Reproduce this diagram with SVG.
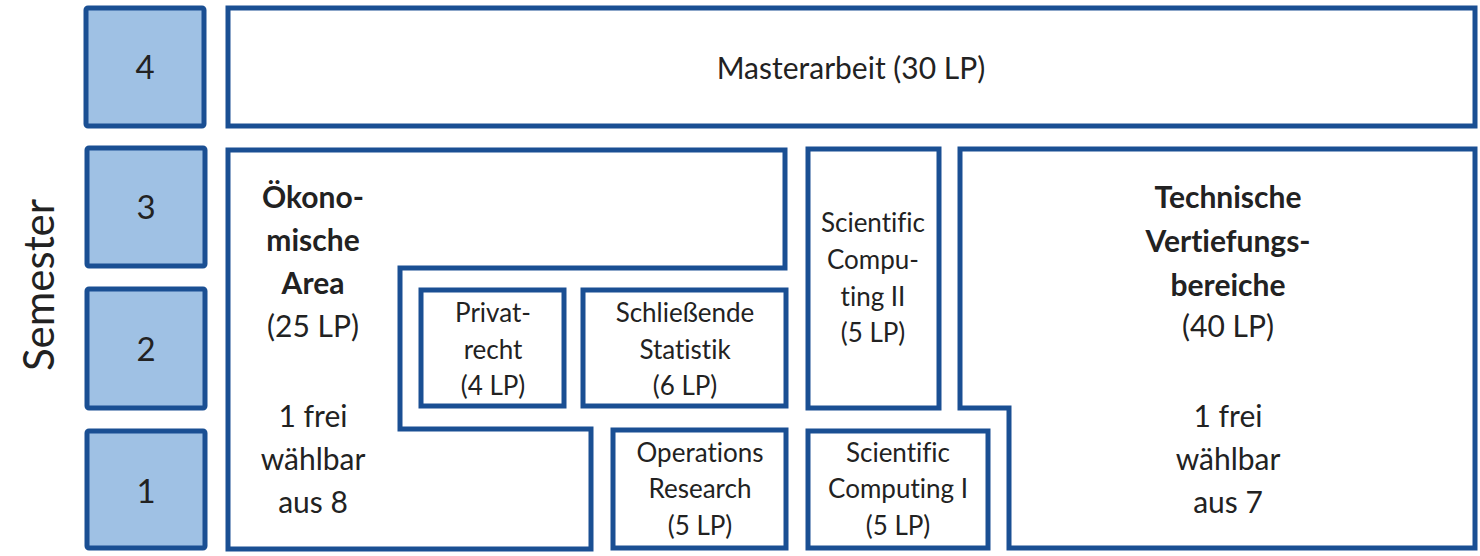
<svg xmlns="http://www.w3.org/2000/svg" width="1480" height="556" viewBox="0 0 1480 556">
<style>
.box{fill:#ffffff;stroke:#1a4f93;stroke-width:5;stroke-linejoin:miter}
.sem{fill:#9fc1e4;stroke:#1a4f93;stroke-width:5}
text{font-family:Lato,"Open Sans","Liberation Sans",sans-serif;fill:#222;text-anchor:middle;font-variant-ligatures:none}
.big{font-size:30px}
.small{font-size:26px}
.num{font-size:33px}
.b{font-weight:700}
</style>
<rect width="1480" height="556" fill="#ffffff"/>
<text id="semester-label" transform="translate(54,285) rotate(-90)" style="font-size:42px">Semester</text>
<g id="sem4"><rect class="sem" x="86" y="8" width="118" height="118" rx="2"/><text class="num" x="145" y="79">4</text></g>
<g id="sem3"><rect class="sem" x="87" y="148" width="118" height="118" rx="2"/><text class="num" x="146" y="219">3</text></g>
<g id="sem2"><rect class="sem" x="87" y="289" width="118" height="119" rx="2"/><text class="num" x="146" y="361">2</text></g>
<g id="sem1"><rect class="sem" x="87" y="431" width="118" height="117" rx="2"/><text class="num" x="146" y="503">1</text></g>
<g id="masterarbeit"><rect class="box" x="228" y="8" width="1247" height="118"/><text class="big" x="851" y="79">Masterarbeit (30 LP)</text></g>
<g id="oekonomische-area"><path class="box" d="M228,150 H785 V268 H400 V429 H591 V549 H228 Z"/>
<text class="big b" x="313" y="208">Ökono-</text>
<text class="big b" x="313" y="251">mische</text>
<text class="big b" x="313" y="294">Area</text>
<text class="big" x="313" y="337">(25 LP)</text>
<text class="big" x="313" y="427">1 frei</text>
<text class="big" x="313" y="470">wählbar</text>
<text class="big" x="313" y="513">aus 8</text>
</g>
<g id="privatrecht"><rect class="box" x="421" y="290" width="143" height="116"/>
<text class="small" x="493" y="322">Privat-</text><text class="small" x="493" y="359">recht</text><text class="small" x="493" y="395">(4 LP)</text></g>
<g id="schliessende-statistik"><rect class="box" x="583" y="290" width="203" height="116"/>
<text class="small" x="685" y="322">Schließende</text><text class="small" x="685" y="359">Statistik</text><text class="small" x="685" y="395">(6 LP)</text></g>
<g id="operations-research"><rect class="box" x="613" y="430" width="173" height="118"/>
<text class="small" x="700" y="462">Operations</text><text class="small" x="700" y="498">Research</text><text class="small" x="700" y="535">(5 LP)</text></g>
<g id="scientific-computing-1"><rect class="box" x="808" y="431" width="180" height="117"/>
<text class="small" x="898" y="462">Scientific</text><text class="small" x="898" y="498">Computing I</text><text class="small" x="898" y="535">(5 LP)</text></g>
<g id="scientific-computing-2"><rect class="box" x="808" y="149" width="131" height="259"/>
<text class="small" x="873" y="232">Scientific</text><text class="small" x="873" y="269">Compu-</text><text class="small" x="873" y="306">ting II</text><text class="small" x="873" y="342">(5 LP)</text></g>
<g id="technische-vertiefungsbereiche"><path class="box" d="M960,149 H1475 V548 H1009 V408 H960 Z"/>
<text class="big b" x="1228" y="208">Technische</text>
<text class="big b" x="1228" y="252">Vertiefungs-</text>
<text class="big b" x="1228" y="296">bereiche</text>
<text class="big" x="1228" y="337">(40 LP)</text>
<text class="big" x="1228" y="427">1 frei</text>
<text class="big" x="1228" y="470">wählbar</text>
<text class="big" x="1228" y="513">aus 7</text>
</g>
<g id="connectors"></g>
</svg>
